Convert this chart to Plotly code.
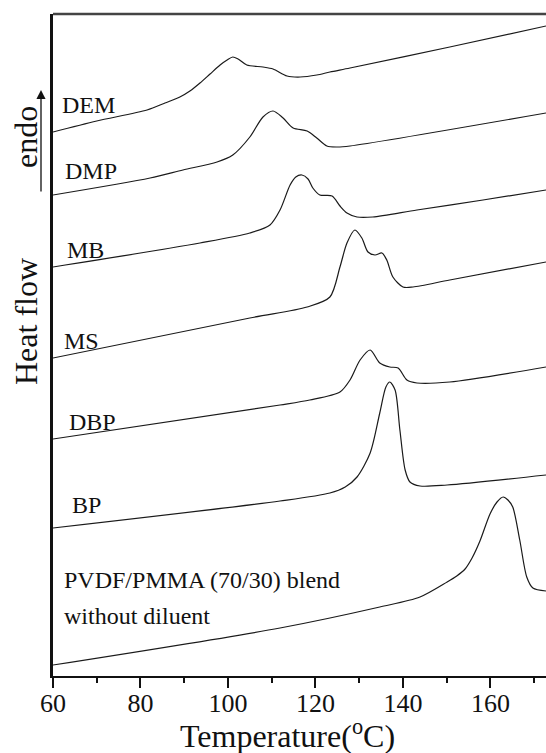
import plotly.graph_objects as go

# Temperature (deg C) and heat flow (arbitrary units, stacked curves)
dem_T = [60, 70, 81.5, 85.6, 89.0, 91.3, 93.6, 95.9, 98.2, 99.8, 101.1, 102.3, 104.3, 108, 110.3, 113.5, 116.5, 120.3, 123.3, 127.9, 150.7, 172.7]
dem_hf = [544, 555, 566, 573, 579, 585, 593, 602, 611, 616, 619, 617, 611, 609, 607, 600, 599, 601, 604, 608, 629, 650]

dmp_T = [60, 82.2, 89.7, 97.5, 101.1, 105.0, 108.0, 110.3, 112.6, 114.9, 118.1, 120.3, 122.6, 124.9, 127.9, 172.7]
dmp_hf = [481, 498, 506, 514, 521, 539, 559, 565, 558, 548, 545, 538, 530, 529, 530, 563]

mb_T = [60, 93.6, 105.0, 109.6, 111.9, 114.2, 115.5, 116.9, 118.3, 119.4, 121.0, 123.8, 125.6, 127.2, 129.5, 133.1, 143.2, 158.3, 172.7]
mb_hf = [409, 433, 443, 451, 466, 491, 499, 501, 497, 488, 481, 480, 470, 463, 459, 459, 466, 476, 486]

ms_T = [60, 105.0, 118.1, 123.3, 125.6, 127.2, 129.0, 130.6, 132.0, 133.6, 135.2, 136.3, 137.7, 140.0, 142.3, 150.7, 172.7]
ms_hf = [318, 358, 369, 379, 409, 433, 446, 438, 424, 421, 423, 416, 399, 389, 389, 396, 414]

dbp_T = [60, 111.9, 118.7, 125.6, 127.9, 130.2, 132.5, 134.7, 137.0, 138.9, 140.9, 143.2, 150.7, 172.7]
dbp_hf = [237, 271, 276, 284, 296, 316, 326, 313, 309, 308, 296, 293, 294, 309]

bp_T = [60, 111.9, 123.3, 126.8, 129.5, 132.5, 134.7, 136.1, 137.0, 138.2, 139.3, 140.5, 141.6, 143.9, 150.1, 172.7]
bp_hf = [148, 175, 183, 189, 199, 223, 263, 289, 294, 286, 246, 206, 194, 190, 191, 201]

pvdf_T = [60, 111.9, 134.7, 143.9, 150.1, 152.3, 154.2, 155.8, 157.6, 159.9, 161.5, 162.9, 164.0, 165.1, 166.7, 168.3, 169.7, 172.7]
pvdf_hf = [11, 48, 69, 79, 94, 100, 107, 118, 135, 162, 174, 179, 176, 169, 136, 99, 88, 85]

curve_labels = ["DEM", "DMP", "MB", "MS", "DBP", "BP"]
label_T = [61.6, 62.3, 62.7, 62.1, 63.2, 63.9]
label_hf = [571, 505, 426, 335, 254, 171]
pvdf_label = ["PVDF/PMMA (70/30) blend", "without diluent"]
pvdf_label_T = [62.1, 62.1]
pvdf_label_hf = [96, 60]

x_ticks = [60, 80, 100, 120, 140, 160]

FONT = "Liberation Serif"
LINE = "#1a1a1a"

fig = go.Figure()
for T, hf in [(dem_T, dem_hf), (dmp_T, dmp_hf), (mb_T, mb_hf), (ms_T, ms_hf),
              (dbp_T, dbp_hf), (bp_T, bp_hf), (pvdf_T, pvdf_hf)]:
    fig.add_trace(go.Scatter(x=T, y=hf, mode="lines",
                             line=dict(color=LINE, width=1.2, shape="spline", smoothing=0.8),
                             showlegend=False, hoverinfo="skip"))

ann = []
for t, x, y in zip(curve_labels, label_T, label_hf):
    ann.append(dict(x=x, y=y, xref="x", yref="y", text=t, showarrow=False,
                    xanchor="left", yanchor="middle", font=dict(family=FONT, size=24, color="#111")))
for t, x, y in zip(pvdf_label, pvdf_label_T, pvdf_label_hf):
    ann.append(dict(x=x, y=y, xref="x", yref="y", text=t, showarrow=False,
                    xanchor="left", yanchor="middle", font=dict(family=FONT, size=24, color="#111")))

W, H = 546, 753
L, R, T0, B = 53, 0, 14, 77
pw, ph = W - L - R, H - T0 - B

def px(xp):
    return (xp - L) / pw

def py(yp):
    return (H - B - yp) / ph

ann.append(dict(x=px(26), y=py(322), xref="paper", yref="paper", text="Heat flow",
                textangle=-90, showarrow=False, xanchor="center", yanchor="middle",
                font=dict(family=FONT, size=32, color="#111")))
ann.append(dict(x=px(26), y=py(137), xref="paper", yref="paper", text="endo",
                textangle=-90, showarrow=False, xanchor="center", yanchor="middle",
                font=dict(family=FONT, size=32, color="#111")))
ann.append(dict(x=px(41), y=py(90), xref="paper", yref="paper", text="",
                showarrow=True, ax=0, ay=103, arrowhead=2, arrowsize=1.4,
                arrowwidth=1.3, arrowcolor="#111"))
ann.append(dict(x=px(287), y=py(734), xref="paper", yref="paper",
                text="Temperature(<sup>o</sup>C)", showarrow=False,
                xanchor="center", yanchor="middle",
                font=dict(family=FONT, size=32, color="#111")))

fig.update_layout(
    width=W, height=H,
    margin=dict(l=L, r=R, t=T0, b=B, pad=0),
    paper_bgcolor="white", plot_bgcolor="white",
    annotations=ann,
    shapes=[dict(type="line", xref="paper", yref="paper", x0=0, x1=1, y0=1, y1=1,
                 line=dict(color="#444", width=2.5))],
    xaxis=dict(range=[60, 172.7], tickvals=x_ticks, ticks="outside", ticklen=10,
               tickwidth=1.5, tickcolor="#111", ticklabelstandoff=-7,
               minor=dict(dtick=10, tick0=60, ticks="outside", ticklen=5, tickwidth=1.5, tickcolor="#111"),
               showline=True, linecolor="#111", linewidth=2, showgrid=False, zeroline=False,
               tickfont=dict(family=FONT, size=26, color="#111")),
    yaxis=dict(range=[0, 662], showline=True, linecolor="#111", linewidth=2.5,
               showticklabels=False, ticks="", showgrid=False, zeroline=False),
)

fig.write_html("out.html")
